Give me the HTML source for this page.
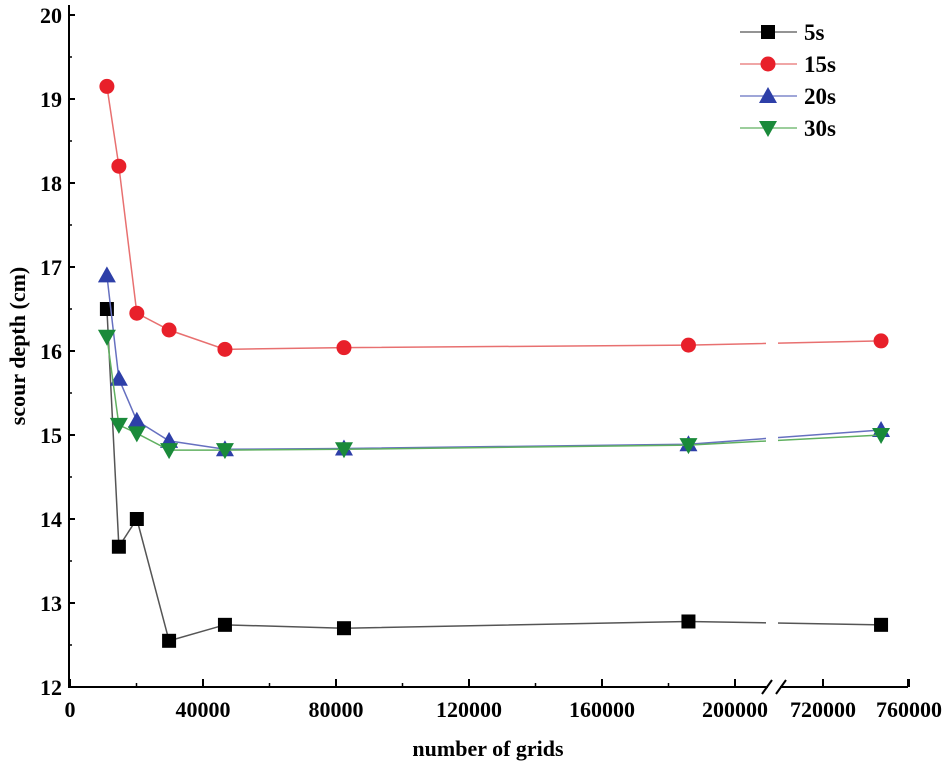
<!DOCTYPE html>
<html><head><meta charset="utf-8"><style>
body{margin:0;background:#fff}
svg{display:block;font-family:"Liberation Serif",serif;font-weight:bold}
</style></head><body>
<svg id="chart" width="950" height="767" viewBox="0 0 950 767"></svg>
<script>
const categories = [11100, 14700, 20100, 29800, 46600, 82400, 186000, 747000];
const series5 = [16.5, 13.67, 14.0, 12.55, 12.74, 12.70, 12.78, 12.74];
const series15 = [19.15, 18.2, 16.45, 16.25, 16.02, 16.04, 16.07, 16.12];
const series20 = [16.9, 15.67, 15.17, 14.93, 14.83, 14.84, 14.89, 15.06];
const series30 = [16.17, 15.12, 15.02, 14.82, 14.82, 14.83, 14.88, 15.0];
const xTicksLeft = [0, 40000, 80000, 120000, 160000, 200000];
const xTicksRight = [720000, 760000];
const yTicks = [12, 13, 14, 15, 16, 17, 18, 19, 20];
const seriesNames = ["5s", "15s", "20s", "30s"];

const NS = "http://www.w3.org/2000/svg";
const svg = document.getElementById("chart");
function mk(tag, attrs, parent){const e=document.createElementNS(NS,tag);for(const k in attrs)e.setAttribute(k,attrs[k]);(parent||svg).appendChild(e);return e;}
function x(v){ if(v<=400000) return 70 + v/40000*133; return 823 + (v-720000)/40000*86; }
function y(v){ return 687 - (v-12)*84; }

// axes
let ax = mk("line",{x1:69,y1:5,x2:69,y2:688,stroke:"#000","stroke-width":2});


let bx1 = mk("line",{x1:68,y1:687,x2:768,y2:687,stroke:"#000","stroke-width":2});


let bx2 = mk("line",{x1:780,y1:687,x2:908,y2:687,stroke:"#000","stroke-width":2});


mk("line",{x1:762,y1:694,x2:772,y2:680,stroke:"#000","stroke-width":2});
mk("line",{x1:776,y1:694,x2:786,y2:680,stroke:"#000","stroke-width":2});
mk("line",{x1:908,y1:679,x2:908,y2:687,stroke:"#000","stroke-width":2});

yTicks.forEach(t=>{
  mk("line",{x1:69,y1:y(t),x2:75,y2:y(t),stroke:"#000","stroke-width":2});
  if(t<20) mk("line",{x1:69,y1:y(t+0.5),x2:72,y2:y(t+0.5),stroke:"#000","stroke-width":1.5});
  const tx = mk("text",{x:62,y:y(t)+8,"text-anchor":"end","font-size":22});
  tx.textContent=t;
  
  
});
xTicksLeft.concat(xTicksRight).forEach(t=>{
  mk("line",{x1:x(t),y1:687,x2:x(t),y2:679,stroke:"#000","stroke-width":2});
  const tx = mk("text",{x:x(t),y:717,"text-anchor":"middle","font-size":22});
  tx.textContent=t;
  
  
});
xTicksLeft.slice(0,-1).forEach(t=>{ mk("line",{x1:x(t+20000),y1:687,x2:x(t+20000),y2:683,stroke:"#000","stroke-width":1.5}); });

let xt = mk("text",{x:488,y:756,"text-anchor":"middle","font-size":22});
xt.textContent="number of grids";


let yt = mk("text",{x:0,y:0,"text-anchor":"middle","font-size":22,transform:"translate(25,346) rotate(-90)"});
yt.textContent="scour depth (cm)";



const colors = ["#000000","#e8202a","#2e3fa8","#1a8a3a"];
const lineColors = ["#555","#e87070","#6670c0","#60b060"];
const all = [series5, series15, series20, series30];

function marker(i,cx,cy,parent){
  const c=colors[i];
  if(i===0) return mk("rect",{x:cx-7,y:cy-7,width:14,height:14,fill:c},parent);
  if(i===1) return mk("circle",{cx:cx,cy:cy,r:7.5,fill:c},parent);
  if(i===2) return mk("polygon",{points:`${cx},${cy-9} ${cx-9},${cy+7} ${cx+9},${cy+7}`,fill:c},parent);
  return mk("polygon",{points:`${cx},${cy+9} ${cx-9},${cy-7} ${cx+9},${cy-7}`,fill:c},parent);
}

all.forEach((s,i)=>{
  const g = mk("g",{});
  
  
  const pts = s.map((v,j)=>x(categories[j])+","+y(v)).join(" ");
  mk("polyline",{points:pts,fill:"none",stroke:lineColors[i],"stroke-width":1.5},g);
  s.forEach((v,j)=>{
    const m = marker(i,x(categories[j]),y(v),g);
    
    
  });
});
// gap at axis break
mk("rect",{x:766,y:100,width:12,height:560,fill:"#fff"});

// legend
const lg = mk("g",{});


seriesNames.forEach((n,i)=>{
  const cy = 32 + i*32;
  const e = mk("g",{},lg);
  
  
  mk("line",{x1:740,y1:cy,x2:797,y2:cy,stroke:lineColors[i],"stroke-width":1.2},e);
  marker(i,768,cy,e);
  const t = mk("text",{x:804,y:cy+8,"font-size":23},e);
  t.textContent=n;
});
</script>
</body></html>
